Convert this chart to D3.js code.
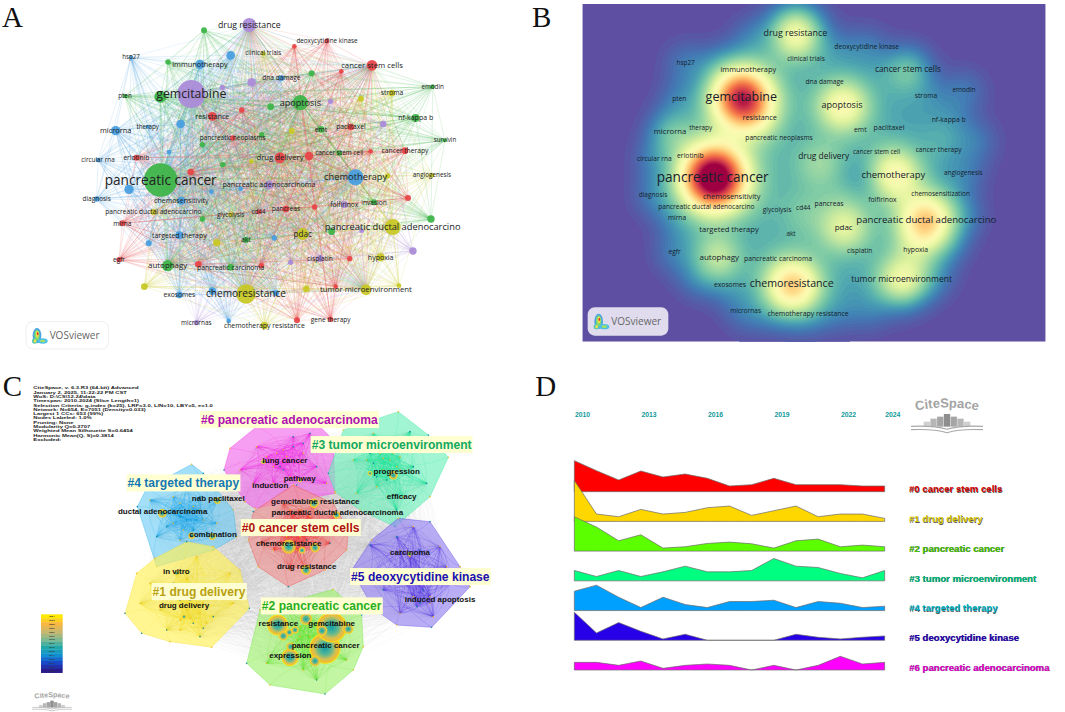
<!DOCTYPE html>
<html>
<head>
<meta charset="utf-8">
<script src="https://cdn.jsdelivr.net/npm/d3@7"></script>
<style>
  body { margin: 0; background: #fff; }
  text { font-family: "Open Sans", sans-serif; }
  .bold { font-family: "Liberation Sans", Arial, sans-serif; font-weight: bold; }
  .letter { font-family: "Liberation Serif", serif; font-size: 29px; fill: #111; }
</style>
</head>
<body>
<div id="chart"></div>
<script>
// map units below are reference pixels x 3, one panel at a time
const unit = d3.scaleLinear().domain([0, 1590]).range([0, 530])

const clusterColors = {
  g: '#3fb54a',
  p: '#ab8cd8',
  b: '#4a9fdf',
  r: '#e8474a',
  y: '#c8c828'
}

// panel A: name, x, y, weight, cluster
const keywordNodes = [
  ['pancreatic cancer', 482, 540, 50, 'g'],
  ['gemcitabine', 574, 282, 42, 'p'],
  ['drug resistance', 748, 75, 21, 'p'],
  ['deoxycytidine kinase', 981, 122, 7, 'r'],
  ['clinical trials', 790, 160, 7, 'y'],
  ['hsp27', 393, 172, 6, 'b'],
  ['immunotherapy', 600, 193, 14, 'b'],
  ['cancer stem cells', 1116, 196, 16, 'r'],
  ['dna damage', 844, 234, 9, 'b'],
  ['pten', 375, 288, 7, 'g'],
  ['apoptosis', 901, 308, 23, 'g'],
  ['stroma', 1176, 279, 10, 'y'],
  ['emodin', 1298, 260, 7, 'g'],
  ['nf-kappa b', 1247, 354, 12, 'g'],
  ['resistance', 637, 349, 13, 'r'],
  ['therapy', 443, 380, 6, 'b'],
  ['microrna', 347, 392, 14, 'b'],
  ['emt', 963, 388, 10, 'g'],
  ['paclitaxel', 1053, 381, 10, 'r'],
  ['pancreatic neoplasms', 698, 414, 8, 'r'],
  ['survivin', 1335, 421, 6, 'g'],
  ['circular rna', 294, 480, 7, 'b'],
  ['erlotinib', 409, 473, 9, 'r'],
  ['drug delivery', 840, 473, 16, 'r'],
  ['cancer stem cell', 1018, 459, 8, 'g'],
  ['cancer therapy', 1215, 452, 10, 'r'],
  ['angiogenesis', 1296, 526, 7, 'y'],
  ['chemotherapy', 1067, 532, 24, 'b'],
  ['pancreatic adenocarcinoma', 807, 555, 13, 'p'],
  ['diagnosis', 290, 597, 8, 'b'],
  ['chemosensitivity', 544, 602, 12, 'b'],
  ['invasion', 1122, 607, 9, 'g'],
  ['folfirinox', 1033, 614, 10, 'p'],
  ['pancreatic ductal adenocarcino', 460, 636, 9, 'y'],
  ['glycolysis', 692, 644, 7, 'y'],
  ['cd44', 776, 636, 7, 'r'],
  ['pancreas', 858, 627, 10, 'r'],
  ['mirna', 367, 670, 9, 'r'],
  ['pancreatic ductal adenocarcino', 1178, 681, 24, 'y'],
  ['pdac', 908, 702, 18, 'y'],
  ['targeted therapy', 538, 706, 12, 'b'],
  ['akt', 738, 720, 9, 'g'],
  ['hypoxia', 1142, 772, 12, 'y'],
  ['cisplatin', 960, 776, 10, 'p'],
  ['egfr', 357, 779, 8, 'r'],
  ['autophagy', 503, 797, 17, 'g'],
  ['pancreatic carcinoma', 692, 802, 10, 'g'],
  ['chemoresistance', 738, 882, 29, 'y'],
  ['exosomes', 538, 885, 10, 'b'],
  ['tumor microenvironment', 1098, 869, 16, 'y'],
  ['micrornas', 589, 968, 8, 'p'],
  ['chemotherapy resistance', 793, 977, 11, 'y'],
  ['gene therapy', 992, 958, 8, 'r']
]

// panel A nodes that carry no label: x, y, weight, cluster
const unlabeledNodes = [
  [612, 91, 9, 'g'], [692, 166, 13, 'b'], [504, 186, 8, 'g'], [883, 139, 7, 'r'],
  [935, 220, 9, 'g'], [1024, 214, 7, 'r'], [755, 247, 13, 'p'], [667, 262, 8, 'p'],
  [481, 290, 18, 'g'], [812, 320, 10, 'g'], [725, 330, 8, 'r'], [992, 304, 8, 'p'],
  [1083, 296, 9, 'y'], [542, 372, 13, 'b'], [785, 404, 8, 'g'], [875, 393, 9, 'y'],
  [1150, 372, 10, 'p'], [607, 434, 8, 'g'], [507, 456, 7, 'b'], [927, 468, 13, 'r'],
  [1112, 454, 7, 'r'], [668, 494, 8, 'g'], [754, 484, 7, 'y'], [572, 516, 10, 'r'],
  [387, 568, 14, 'b'], [634, 575, 7, 'b'], [722, 566, 7, 'b'], [1163, 528, 8, 'y'],
  [1224, 594, 9, 'r'], [1293, 657, 11, 'g'], [944, 621, 8, 'r'], [607, 657, 8, 'g'],
  [995, 695, 10, 'g'], [1085, 692, 7, 'p'], [823, 714, 8, 'b'], [650, 728, 11, 'y'],
  [446, 730, 9, 'b'], [1239, 753, 11, 'p'], [1049, 776, 8, 'r'], [872, 787, 8, 'p'],
  [595, 793, 10, 'r'], [784, 797, 8, 'r'], [433, 860, 10, 'y'], [637, 873, 11, 'b'],
  [828, 880, 9, 'b'], [919, 867, 10, 'y'], [1007, 860, 7, 'r'], [1197, 857, 7, 'y'],
  [891, 961, 9, 'r'], [686, 963, 7, 'b']
]

const hubNames = ['pancreatic cancer', 'gemcitabine', 'chemoresistance', 'chemotherapy', 'apoptosis',
  'drug resistance', 'cancer stem cells', 'pdac', 'drug delivery', 'autophagy', 'tumor microenvironment']

// panel B: name, x, y, label size
const densityLabels = [
  ['drug resistance', 796, 98, 8.9], ['deoxycytidine kinase', 1010, 141, 6.7], ['clinical trials', 828, 177, 6.6],
  ['hsp27', 467, 187, 6.4], ['immunotherapy', 655, 208, 7.4], ['cancer stem cells', 1134, 209, 8.3],
  ['dna damage', 884, 246, 6.6], ['pten', 448, 295, 6.6], ['gemcitabine', 634, 290, 12.5],
  ['apoptosis', 936, 316, 9], ['stroma', 1188, 287, 6.8], ['emodin', 1302, 270, 6.5],
  ['nf-kappa b', 1256, 358, 6.8], ['resistance', 689, 354, 7.2], ['therapy', 512, 382, 6.4],
  ['microrna', 420, 393, 7.7], ['emt', 991, 388, 6.8], ['paclitaxel', 1077, 382, 7],
  ['pancreatic neoplasms', 747, 414, 6.6], ['circular rna', 373, 476, 6.6], ['erlotinib', 481, 468, 6.8],
  ['drug delivery', 881, 468, 8.4], ['cancer stem cell', 1040, 457, 6.3], ['cancer therapy', 1226, 449, 6.6],
  ['angiogenesis', 1300, 519, 6.4], ['chemotherapy', 1090, 525, 9.4], ['pancreatic cancer', 548, 531, 13.6],
  ['diagnosis', 369, 585, 6.5], ['chemosensitivity', 605, 590, 7.4], ['chemosensitization', 1232, 581, 6.5],
  ['folfirinox', 1057, 600, 6.8], ['pancreatic ductal adenocarcino', 529, 620, 6.6], ['glycolysis', 741, 629, 6.6],
  ['cd44', 820, 622, 6.5], ['pancreas', 897, 612, 6.8], ['mirna', 441, 652, 6.6],
  ['pancreatic ductal adenocarcino', 1189, 660, 9.6], ['pdac', 941, 682, 8], ['targeted therapy', 597, 688, 7.6],
  ['akt', 783, 701, 6.4], ['hypoxia', 1157, 748, 6.8], ['cisplatin', 989, 753, 6.6],
  ['egfr', 434, 755, 6.6], ['autophagy', 568, 771, 8], ['pancreatic carcinoma', 744, 775, 6.8],
  ['exosomes', 600, 854, 6.8], ['chemoresistance', 785, 850, 10.6], ['tumor microenvironment', 1115, 838, 8.5],
  ['micrornas', 647, 932, 6.5], ['chemotherapy resistance', 834, 940, 6.9]
]

// panel B: hot spots: x, y, height
const heatPeaks = [
  [548, 530, 1.0], [632, 290, 0.8], [785, 855, 0.5], [1187, 660, 0.5], [796, 95, 0.36], [936, 315, 0.34],
  [1090, 520, 0.34], [1115, 840, 0.32], [941, 680, 0.24], [560, 770, 0.2], [1130, 205, 0.12], [870, 490, 0.12],
  [1157, 745, 0.08], [420, 395, 0.1], [680, 360, 0.1], [930, 560, 0.08], [820, 640, 0.06], [1240, 420, 0.05]
]

// panel C: clusters
const clusterNames = ['#0 cancer stem cells', '#1 drug delivery', '#2 pancreatic cancer', '#3 tumor microenvironment',
  '#4 targeted therapy', '#5 deoxycytidine kinase', '#6 pancreatic adenocarcinoma']
const clusterFill = ['#f09494', '#fff25a', '#a4f272', '#72f0bc', '#74cef4', '#9484f2', '#f26cea']
const clusterStroke = ['#f02020', '#f0d820', '#50e020', '#10e090', '#10a0e8', '#3818d8', '#f010e0']
const clusterText = ['#b01010', '#b8a010', '#28b020', '#12a860', '#1478b4', '#2010b0', '#b010b0']
const clusterLabelSpots = [[902, 472], [597, 664], [965, 707], [1175, 223], [550, 338], [1261, 619], [868, 148]]
const clusterOrder = [6, 3, 4, 5, 1, 2, 0]

const clusterHulls = [
  [[760, 425], [880, 345], [1000, 400], [1045, 480], [1040, 540], [975, 600], [865, 650], [775, 590], [745, 510]],
  [[375, 730], [410, 610], [465, 565], [560, 515], [640, 530], [720, 600], [748, 715], [635, 832], [510, 815], [425, 790]],
  [[740, 880], [780, 720], [1000, 658], [1085, 735], [1090, 830], [1060, 900], [975, 972], [810, 945]],
  [[985, 310], [1030, 180], [1195, 125], [1285, 195], [1345, 262], [1290, 380], [1185, 470], [1080, 420], [1005, 365]],
  [[412, 410], [440, 355], [575, 283], [610, 310], [700, 420], [710, 500], [640, 540], [470, 590]],
  [[1055, 600], [1115, 510], [1195, 445], [1290, 455], [1380, 590], [1410, 650], [1295, 772], [1190, 765], [1120, 715]],
  [[672, 300], [690, 235], [770, 170], [950, 160], [1000, 210], [1005, 370], [890, 345], [765, 415], [735, 395]]
]

const clusterMembers = [
  [[866, 530], [906, 541], [945, 533], [918, 600], [942, 400], [1010, 435], [880, 430], [840, 470], [900, 500], [960, 480], [820, 540], [870, 600], [990, 520], [780, 520], [850, 400], [1000, 470]],
  [[552, 740], [570, 745], [610, 775], [530, 610], [560, 625], [640, 740], [480, 720], [420, 700], [500, 780], [590, 700], [690, 610], [600, 800], [450, 640], [700, 700], [540, 690], [590, 560]],
  [[975, 835], [995, 770], [833, 765], [918, 747], [870, 862], [850, 798], [1045, 777], [945, 873], [900, 800], [800, 880], [950, 930], [1040, 870], [1000, 700], [860, 720], [910, 900]],
  [[1180, 316], [1110, 310], [1150, 265], [1230, 185], [1100, 270], [1170, 210], [1240, 290], [1210, 380], [1130, 350], [1280, 340], [1060, 270], [1120, 190], [1190, 420], [1070, 370], [1200, 260], [1160, 330]],
  [[487, 430], [575, 497], [637, 500], [652, 392], [540, 440], [580, 410], [520, 380], [470, 500], [560, 340], [610, 450], [500, 470], [540, 510], [650, 460], [600, 380], [450, 390]],
  [[1228, 552], [1290, 680], [1250, 620], [1190, 500], [1320, 530], [1350, 640], [1110, 525], [1200, 730], [1300, 740], [1150, 660], [1240, 470], [1340, 590], [1260, 700], [1110, 610]],
  [[790, 275], [900, 330], [850, 240], [930, 190], [770, 230], [720, 300], [950, 290], [820, 340], [760, 340], [880, 200], [980, 340], [910, 250], [840, 290]]
]

// the tighter knots in the middle of each cluster
const clusterCores = [
  [[880, 450], [860, 500], [900, 470], [930, 440], [840, 520], [920, 510], [890, 540], [870, 420], [950, 460], [900, 420]],
  [[560, 720], [580, 760], [540, 750], [600, 730], [520, 640], [560, 600], [620, 760], [570, 690], [610, 700], [540, 780]],
  [[930, 800], [960, 790], [900, 770], [920, 830], [950, 760], [890, 810], [970, 810], [910, 860], [1000, 800], [930, 740]],
  [[1140, 250], [1170, 270], [1120, 280], [1190, 290], [1150, 300], [1110, 250], [1200, 300], [1160, 240], [1130, 320], [1180, 250]],
  [[530, 430], [560, 450], [520, 460], [570, 420], [590, 450], [540, 400], [510, 420], [580, 480], [550, 480], [600, 420]],
  [[1240, 680], [1270, 660], [1220, 640], [1290, 700], [1250, 710], [1230, 560], [1200, 540], [1260, 540]],
  [[830, 250], [860, 260], [880, 230], [820, 290], [900, 280], [850, 300], [800, 260], [870, 320], [910, 220]]
]

const termLabels = [
  ['lung cancer', 855, 270], ['pathway', 899, 324], ['induction', 811, 347], ['progression', 1190, 305],
  ['efficacy', 1205, 380], ['nab paclitaxel', 655, 384], ['ductal adenocarcinoma', 488, 423],
  ['gemcitabine resistance', 946, 394], ['pancreatic ductal adenocarcinoma', 1012, 428], ['combination', 639, 494],
  ['chemoresistance', 866, 521], ['carcinoma', 1230, 547], ['drug resistance', 920, 590], ['in vitro', 529, 603],
  ['drug delivery', 552, 705], ['induced apoptosis', 1320, 687], ['resistance', 835, 760], ['gemcitabine', 995, 759],
  ['pancreatic cancer', 977, 827], ['expression', 871, 857]
]

// citation rings: x, y, radius
const citationRings = [
  [975, 835, 45], [995, 772, 44], [833, 765, 30], [918, 747, 17], [870, 862, 25], [850, 798, 13],
  [868, 787, 10], [885, 780, 10], [966, 782, 15], [1045, 777, 14], [872, 830, 12], [945, 873, 15],
  [866, 530, 20], [906, 541, 9], [945, 533, 13], [918, 600, 14], [942, 400, 13], [1010, 435, 10],
  [1180, 316, 12], [1110, 310, 6], [487, 430, 12], [575, 497, 9], [637, 500, 9], [652, 392, 9],
  [790, 275, 6], [900, 330, 6], [1228, 552, 5], [530, 610, 6], [552, 740, 6]
]

const metaLines = [
  'CiteSpace, v. 6.3.R3 (64-bit) Advanced',
  'January 2, 2025, 11:22:22 PM CST',
  'WoS: D:\\CS\\12.24\\data',
  'Timespan: 2010-2024 (Slice Length=1)',
  'Selection Criteria: g-index (k=25), LRF=3.0, L/N=10, LBY=5, e=1.0',
  'Network: N=654, E=7051 (Density=0.033)',
  'Largest 1 CCs: 653 (99%)',
  'Nodes Labeled: 1.0%',
  'Pruning: None',
  'Modularity Q=0.2707',
  'Weighted Mean Silhouette S=0.6454',
  'Harmonic Mean(Q, S)=0.3814',
  'Excluded:'
]

// panel D: cluster activity per year
const years = d3.range(2010, 2025)
const yearTicks = [2010, 2013, 2016, 2019, 2022, 2024]
const activity0 = [93, 63, 35, 62, 44, 53, 40, 17, 21, 40, 21, 21, 21, 17, 17]
const activity1 = [123, 22, 14, 36, 22, 27, 41, 46, 18, 32, 46, 14, 22, 22, 9]
const activity2 = [103, 72, 31, 49, 9, 13, 23, 27, 22, 9, 31, 36, 13, 18, 13]
const activity3 = [31, 13, 31, 13, 27, 44, 27, 27, 31, 67, 44, 40, 22, 9, 31]
const activity4 = [58, 76, 40, 9, 40, 18, 9, 27, 27, 31, 9, 27, 22, 9, 13]
const activity5 = [84, 22, 53, 27, 4, 18, 0, 0, 0, 0, 18, 9, 4, 9, 13]
const activity6 = [23, 23, 14, 27, 5, 14, 18, 14, 0, 14, 0, 14, 41, 18, 23]
const activitySeries = [activity0, activity1, activity2, activity3, activity4, activity5, activity6]
const areaColors = ['#ff0000', '#ffd700', '#5cff00', '#00ff80', '#00a0ff', '#2800e8', '#ff00ff']
const seriesTextColors = ['#d80000', '#d8c400', '#44c400', '#00c080', '#00b4c8', '#2400b4', '#e000d0']

const svg = d3.select('#chart').append('svg')
  .attr('width', 1065)
  .attr('height', 712)
  .style('display', 'block')

const defs = svg.append('defs')

defs.append('filter').attr('id', 'soft')
  .attr('x', '-5%').attr('y', '-5%').attr('width', '110%').attr('height', '110%')
  .append('feGaussianBlur').attr('stdDeviation', 0.4)

function panel(dx, dy) {
  return svg.append('g').attr('transform', `translate(${dx},${dy})`)
}

function addLetter(g, label, zx, zy) {
  g.append('text').attr('class', 'letter').attr('x', unit(zx)).attr('y', unit(zy)).text(label)
}

// small heat map mark of the VOSviewer badge
const badgeBlobs = [
  [33, 42, 13, 23, '#4aa3e0'], [50, 58, 15, 8, '#4fbfe8'], [26, 58, 8, 8, '#55c8b0'],
  [33, 40, 8, 16, '#7fdc70'], [50, 58, 8, 4, '#a0e060'], [27, 58, 4, 5, '#f0e050'],
  [34, 38, 4, 10, '#f6e040'], [35, 36, 2.4, 5, '#e83030']
]

function addBadge(g, zx, zy, zw, zh, fill, stroke, textColor, fontSize) {
  g.append('rect')
    .attr('x', unit(zx)).attr('y', unit(zy))
    .attr('width', unit(zw)).attr('height', unit(zh))
    .attr('rx', 7)
    .attr('fill', fill)
    .attr('stroke', stroke)
  g.selectAll(null).data(badgeBlobs).enter().append('ellipse')
    .attr('cx', d => unit(zx + d[0]))
    .attr('cy', d => unit(zy + d[1]))
    .attr('rx', d => unit(d[2]))
    .attr('ry', d => unit(d[3]))
    .attr('fill', d => d[4])
  g.append('text')
    .attr('x', unit(zx + 71)).attr('y', unit(zy + zh / 2) + fontSize * 0.36)
    .attr('font-size', fontSize)
    .attr('fill', textColor)
    .text('VOSviewer')
}

/* ---------- A: keyword network ---------- */
const panelA = panel(0, 0)
addLetter(panelA, 'A', 6, 81)

const allNodes = keywordNodes.map(d => ({ name: d[0], x: d[1], y: d[2], w: d[3], c: d[4] }))
  .concat(unlabeledNodes.map(d => ({ name: '', x: d[0], y: d[1], w: d[2], c: d[3] })))

const isHub = d => hubNames.includes(d.name)
const links = []
allNodes.forEach((a, i) => {
  allNodes.forEach((b, j) => {
    if (j <= i) return
    if (isHub(a) || isHub(b)) {
      const leaf = isHub(a) && !isHub(b) ? b : (isHub(b) ? a : b)
      links.push({ a, b, color: leaf.c, same: a.c === b.c })
    } else if (a.c === b.c) {
      links.push({ a, b, color: a.c, same: true })
    }
  })
})

const linkWidth = d3.scaleLinear().domain([36, 2100]).range([0.6, 3.6]).clamp(true)
const labelSize = d3.scaleLinear().domain([6, 12, 24, 50]).range([6.2, 7, 9.3, 13.6])

panelA.append('g').attr('filter', 'url(#soft)').selectAll('line').data(links).enter().append('line')
  .attr('x1', d => unit(d.a.x)).attr('y1', d => unit(d.a.y))
  .attr('x2', d => unit(d.b.x)).attr('y2', d => unit(d.b.y))
  .attr('stroke', d => clusterColors[d.color])
  .attr('stroke-width', d => linkWidth(d.a.w * d.b.w))
  .attr('stroke-opacity', d => d.same ? 0.24 : 0.15)

panelA.append('g').selectAll('circle').data(allNodes).enter().append('circle')
  .attr('cx', d => unit(d.x)).attr('cy', d => unit(d.y))
  .attr('r', d => unit(d.w))
  .attr('fill', d => clusterColors[d.c])
  .attr('fill-opacity', 0.95)

panelA.append('g').selectAll('text').data(allNodes.filter(d => d.name)).enter().append('text')
  .attr('x', d => unit(d.x)).attr('y', d => unit(d.y))
  .attr('dy', '0.34em')
  .attr('text-anchor', 'middle')
  .attr('font-size', d => labelSize(d.w))
  .attr('fill', '#222')
  .text(d => d.name)

addBadge(panelA, 78, 965, 248, 82, '#fff', '#eee', '#666', 10)

/* ---------- B: density map ---------- */
const panelB = panel(530, 0)
addLetter(panelB, 'B', 6, 81)

// the density view is the network layout above, slightly squeezed
const densityX = d3.scaleLinear().domain([482, 1178]).range([548, 1189])
const densityY = d3.scaleLinear().domain([75, 882]).range([98, 850])

const frame = { x: 157, y: 12, w: 1390, h: 1013 }
const cell = 6
const gridW = Math.ceil(frame.w / cell)
const gridH = Math.ceil(frame.h / cell)
const density = new Float64Array(gridW * gridH)

function addKernel(cx, cy, height, sigma) {
  for (let j = 0; j < gridH; j++) {
    for (let i = 0; i < gridW; i++) {
      const dx = frame.x + i * cell - cx
      const dy = frame.y + j * cell - cy
      density[j * gridW + i] += height * Math.exp(-(dx * dx + dy * dy) / (2 * sigma * sigma))
    }
  }
}

allNodes.forEach(n => addKernel(densityX(n.x), densityY(n.y), 0.07, 48))
const peakSigma = d3.scaleLinear().domain([0, 1.1]).range([48, 72])
heatPeaks.forEach(p => addKernel(p[0], p[1], p[2], peakSigma(p[2])))

const spectral = t => d3.interpolateSpectral(1 - t)
const thresholds = d3.range(0.012, 1.4, 0.012)
const contours = d3.contours().size([gridW, gridH]).thresholds(thresholds)(density)

defs.append('clipPath').attr('id', 'densityClip').append('rect')
  .attr('x', unit(frame.x)).attr('y', unit(frame.y))
  .attr('width', unit(frame.w)).attr('height', unit(frame.h))

const densityG = panelB.append('g').attr('clip-path', 'url(#densityClip)')
densityG.append('rect')
  .attr('x', unit(frame.x)).attr('y', unit(frame.y))
  .attr('width', unit(frame.w)).attr('height', unit(frame.h))
  .attr('fill', spectral(0))

const contourPath = d3.geoPath(d3.geoTransform({
  point(x, y) {
    this.stream.point(unit(frame.x + x * cell), unit(frame.y + y * cell))
  }
}))
densityG.selectAll('path').data(contours).enter().append('path')
  .attr('d', contourPath)
  .attr('fill', d => spectral(Math.min(1, d.value)))

panelB.append('g').selectAll('text').data(densityLabels).enter().append('text')
  .attr('x', d => unit(d[1])).attr('y', d => unit(d[2]))
  .attr('dy', '0.34em')
  .attr('text-anchor', 'middle')
  .attr('font-size', d => d[3])
  .attr('fill', '#15202c')
  .text(d => d[0])

addBadge(panelB, 173, 922, 242, 85, '#e0dcee', 'none', '#666', 10)

/* ---------- C: cluster map ---------- */
const panelC = panel(0, 370)
addLetter(panelC, 'C', 8, 79)

panelC.append('g').selectAll('text').data(metaLines).enter().append('text')
  .attr('class', 'bold')
  .attr('transform', (d, i) => `translate(${unit(100)},${unit(58 + i * 12.9)}) scale(1.5,1)`)
  .attr('font-size', 3.9)
  .attr('fill', '#222')
  .text(d => d)

// grey web between the clusters, drawn first
const webPoints = clusterMembers.flat()
const webLinks = []
webPoints.forEach((a, i) => webPoints.forEach((b, j) => {
  if (j > i) webLinks.push([a, b])
}))
panelC.append('g').selectAll('line').data(webLinks).enter().append('line')
  .attr('x1', d => unit(d[0][0])).attr('y1', d => unit(d[0][1]))
  .attr('x2', d => unit(d[1][0])).attr('y2', d => unit(d[1][1]))
  .attr('stroke', '#cfcfcf')
  .attr('stroke-width', 0.25)
  .attr('stroke-opacity', 0.22)

const hullLine = d3.line().x(d => unit(d[0])).y(d => unit(d[1])).curve(d3.curveLinearClosed)

const clusterG = panelC.append('g')
clusterOrder.forEach(i => {
  const hull = clusterHulls[i]
  const group = clusterG.append('g')
  group.append('path')
    .attr('d', hullLine(d3.polygonHull(hull)))
    .attr('fill', clusterFill[i])
    .attr('fill-opacity', 0.66)
    .attr('stroke', clusterStroke[i])
    .attr('stroke-opacity', 0.5)
    .attr('stroke-width', 0.6)
  const members = clusterMembers[i].concat(clusterCores[i])
  const pairs = []
  members.forEach((a, m) => members.forEach((b, n) => {
    if (n > m) pairs.push([a, b])
  }))
  hull.forEach((a, m) => pairs.push([a, members[m % members.length]]))
  group.selectAll('path.link').data(pairs).enter().append('path')
    .attr('class', 'link')
    .attr('d', d => {
      const mx = (d[0][0] + d[1][0]) / 2 + (d[1][1] - d[0][1]) * 0.18
      const my = (d[0][1] + d[1][1]) / 2 - (d[1][0] - d[0][0]) * 0.18
      return `M${unit(d[0][0])},${unit(d[0][1])}Q${unit(mx)},${unit(my)} ${unit(d[1][0])},${unit(d[1][1])}`
    })
    .attr('fill', 'none')
    .attr('stroke', clusterStroke[i])
    .attr('stroke-width', 0.35)
    .attr('stroke-opacity', 0.4)
  group.selectAll('circle').data(hull.concat(members)).enter().append('circle')
    .attr('cx', d => unit(d[0])).attr('cy', d => unit(d[1]))
    .attr('r', 0.8)
    .attr('fill', (d, n) => n % 3 === 0 ? '#1f8fa8' : '#f0c030')
})

const ringGradient = defs.append('radialGradient').attr('id', 'ringFill')
ringGradient.append('stop').attr('offset', '0%').attr('stop-color', '#10a0a8')
ringGradient.append('stop').attr('offset', '45%').attr('stop-color', '#5fb890')
ringGradient.append('stop').attr('offset', '75%').attr('stop-color', '#d8c050')
ringGradient.append('stop').attr('offset', '100%').attr('stop-color', '#f6b820')

panelC.append('g').selectAll('circle').data(citationRings).enter().append('circle')
  .attr('cx', d => unit(d[0])).attr('cy', d => unit(d[1]))
  .attr('r', d => unit(d[2]))
  .attr('fill', 'url(#ringFill)')
  .attr('stroke', '#f8e020')
  .attr('stroke-width', d => d[2] > 20 ? 1.1 : 0.6)

panelC.append('g').selectAll('text').data(termLabels).enter().append('text')
  .attr('class', 'bold')
  .attr('x', d => unit(d[1])).attr('y', d => unit(d[2]))
  .attr('dy', '0.34em')
  .attr('text-anchor', 'middle')
  .attr('font-size', 8)
  .attr('fill', '#111')
  .text(d => d[0])

const clusterLabels = panelC.append('g').selectAll('g').data(clusterNames).enter().append('g')
clusterLabels.append('text')
  .attr('class', 'bold')
  .attr('x', (d, i) => unit(clusterLabelSpots[i][0]))
  .attr('y', (d, i) => unit(clusterLabelSpots[i][1]))
  .attr('dy', '0.35em')
  .attr('text-anchor', 'middle')
  .attr('font-size', 12.1)
  .attr('fill', (d, i) => clusterText[i])
  .text(d => d)
clusterLabels.each(function() {
  const t = d3.select(this).select('text')
  const box = t.node().getBBox()
  d3.select(this).insert('rect', 'text')
    .attr('x', box.x - 1).attr('y', box.y - 1.5)
    .attr('width', box.width + 2).attr('height', box.height + 3)
    .attr('fill', '#ffffd2')
})

// colour bar
const barYears = years.slice().reverse()
const barY = d3.scaleBand().domain(barYears).range([unit(733), unit(908)])
const barColor = d3.scaleLinear()
  .domain([2010, 2012, 2014, 2016, 2018, 2020, 2022, 2024])
  .range(['#2a1a8a', '#1848c8', '#1090d0', '#20a8a8', '#80b890', '#c8b870', '#f8b840', '#ffe800'])
const barG = panelC.append('g')
barG.selectAll('rect').data(barYears).enter().append('rect')
  .attr('x', unit(123)).attr('y', d => barY(d))
  .attr('width', unit(65)).attr('height', barY.bandwidth() + 0.3)
  .attr('fill', d => barColor(d))
barG.selectAll('text').data(barYears).enter().append('text')
  .attr('class', 'bold')
  .attr('x', unit(155.5)).attr('y', d => barY(d) + barY.bandwidth() / 2)
  .attr('dy', '0.35em')
  .attr('text-anchor', 'middle')
  .attr('font-size', 2.4)
  .attr('fill', '#333')
  .text(d => d)

// CiteSpace mark, drawn around its own centre
const logoBars = [15, 24, 30, 38, 30, 24, 15]
const logoBarX = d3.scaleBand().domain(d3.range(logoBars.length)).range([-70, 70]).paddingInner(0.06)
const logoShade = d3.scaleLinear().domain([15, 38]).range(['#d0d0d0', '#8e8e8e'])

function addCiteSpaceLogo(g, id, zx, zy, k) {
  const logo = g.append('g')
    .attr('transform', `translate(${unit(zx)},${unit(zy)}) scale(${k})`)
  defs.append('path').attr('id', id).attr('d', 'M-34,-3Q0,-10 34,-3')
  logo.append('text')
    .attr('class', 'bold')
    .attr('font-size', 13)
    .attr('fill', '#a4a4a4')
    .attr('text-anchor', 'middle')
    .append('textPath')
    .attr('href', '#' + id)
    .attr('startOffset', '50%')
    .text('CiteSpace')
  logo.selectAll('rect').data(logoBars).enter().append('rect')
    .attr('x', (d, i) => unit(logoBarX(i)))
    .attr('y', d => unit(38 - d))
    .attr('width', unit(logoBarX.bandwidth()))
    .attr('height', d => unit(d))
    .attr('fill', d => logoShade(d))
  logo.selectAll('path.book').data([42, 52]).enter().append('path')
    .attr('class', 'book')
    .attr('d', d => `M${unit(-108)},${unit(d - 5)}Q${unit(-40)},${unit(d - 8)} 0,${unit(d + 4)}Q${unit(40)},${unit(d - 8)} ${unit(108)},${unit(d - 5)}`)
    .attr('fill', 'none')
    .attr('stroke', '#a8a8a8')
    .attr('stroke-width', 1.1)
}

addCiteSpaceLogo(panelC, 'arcC', 156, 992, 0.55)

/* ---------- D: cluster timeline ---------- */
const panelD = panel(530, 370)
addLetter(panelD, 'D', 16, 79)

const xYear = d3.scaleLinear().domain([2010, 2024]).range([unit(133), unit(1064)])
const heightScale = d3.scaleLinear().domain([0, 100]).range([0, unit(100)])
const baselines = d3.scalePoint().domain(d3.range(7)).range([unit(365), unit(900)])

const yearAxis = d3.axisTop(xYear)
  .tickValues(yearTicks)
  .tickFormat(d3.format('d'))
  .tickSize(0)
  .tickPadding(0)

panelD.append('g')
  .attr('transform', `translate(${unit(23)},${unit(140)})`)
  .call(yearAxis)
  .call(g => g.select('.domain').remove())
  .call(g => g.selectAll('text')
    .attr('class', 'bold')
    .attr('font-size', 6.8)
    .attr('fill', '#0f9a9a'))

activitySeries.forEach((values, i) => {
  const base = baselines(i)
  const area = d3.area()
    .x((d, n) => xYear(years[n]))
    .y0(base)
    .y1(d => base - heightScale(d))
  panelD.append('path')
    .attr('d', area(values))
    .attr('fill', areaColors[i])
    .attr('stroke', '#6a6a6a')
    .attr('stroke-width', 0.7)
  panelD.append('text')
    .attr('class', 'bold')
    .attr('x', unit(1137))
    .attr('y', base - unit(8))
    .attr('dy', '0.35em')
    .attr('font-size', 9.6)
    .attr('fill', seriesTextColors[i])
    .style('text-shadow', '0.5px 0.5px 0.4px #555')
    .text(clusterNames[i])
})

addCiteSpaceLogo(panelD, 'arcD', 1251, 132, 1)
</script>
</body>
</html>
